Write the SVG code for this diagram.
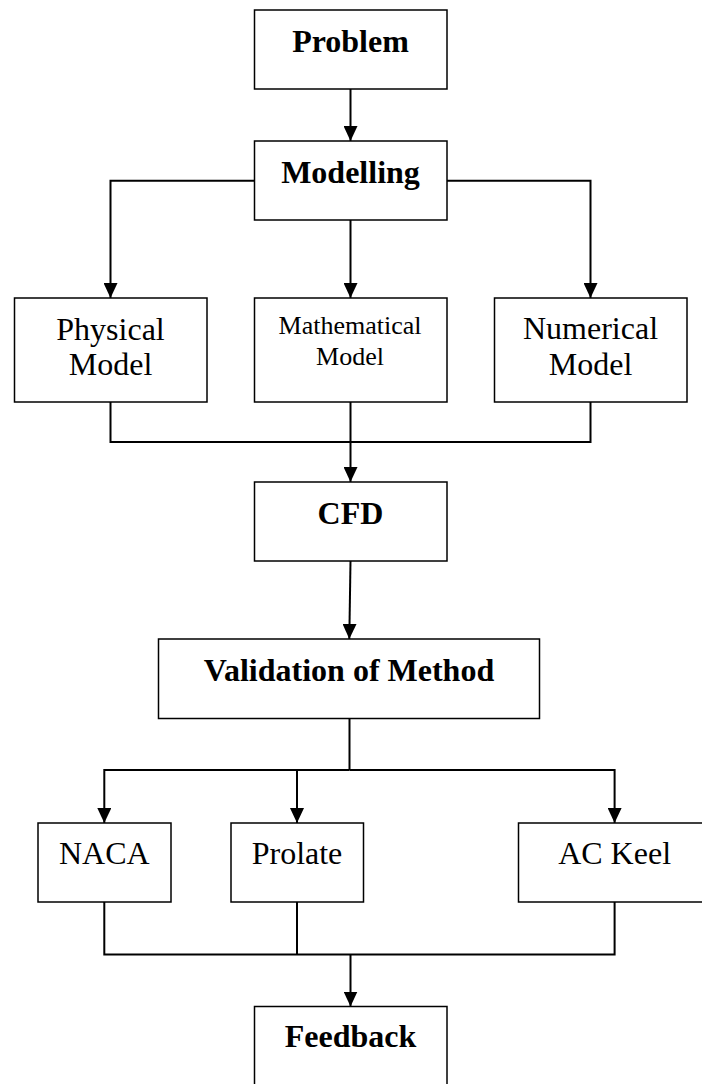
<svg xmlns="http://www.w3.org/2000/svg" width="702" height="1084" viewBox="0 0 702 1084">
<style>
.box{fill:#fff;stroke:#000;stroke-width:1.5}
.t{font-family:"Liberation Serif","Times New Roman",serif;font-size:32px;fill:#000;text-anchor:middle}
.b{font-weight:bold}
.s{font-size:26px}
.c{fill:none;stroke:#000;stroke-width:2}
</style>
<defs>
<marker id="ah" markerUnits="userSpaceOnUse" markerWidth="15" markerHeight="14" viewBox="0 0 15 14" refX="15" refY="7" orient="auto">
<path d="M0,0 L15,7 L0,14 z" fill="#000"/>
</marker>
</defs>
<rect width="702" height="1084" fill="#fff"/>
<g id="connectors">
<path class="c" d="M350.5,89 V141" marker-end="url(#ah)"/>
<path class="c" d="M254,180.7 H110.5 V298" marker-end="url(#ah)"/>
<path class="c" d="M447,180.7 H590.5 V298" marker-end="url(#ah)"/>
<path class="c" d="M350.5,220 V298" marker-end="url(#ah)"/>
<path class="c" d="M110.5,402 V442 H590.5 V402"/>
<path class="c" d="M350.5,402 V482" marker-end="url(#ah)"/>
<path class="c" d="M350.5,561 L349.3,639" marker-end="url(#ah)"/>
<path class="c" d="M349.5,719 V770"/>
<path class="c" d="M349.5,770 H104.3 V823" marker-end="url(#ah)"/>
<path class="c" d="M349.5,770 H614.6 V823" marker-end="url(#ah)"/>
<path class="c" d="M297,770 V823" marker-end="url(#ah)"/>
<path class="c" d="M104.3,902 V954.5 H614.6 V902"/>
<path class="c" d="M297,902 V954.5"/>
<path class="c" d="M350.5,954.5 V1006.5" marker-end="url(#ah)"/>
</g>
<g id="problem">
<rect class="box" x="254.5" y="10" width="192.5" height="79"/>
<text class="t b" x="350.5" y="52">Problem</text>
</g>
<g id="modelling">
<rect class="box" x="254.5" y="141" width="192.5" height="79"/>
<text class="t b" x="350.5" y="183">Modelling</text>
</g>
<g id="physical">
<rect class="box" x="14.5" y="298" width="192.5" height="104"/>
<text class="t" x="110.5" y="339.5">Physical</text>
<text class="t" x="110.5" y="375">Model</text>
</g>
<g id="mathematical">
<rect class="box" x="254.5" y="298" width="192.5" height="104"/>
<text class="t s" x="350" y="334">Mathematical</text>
<text class="t s" x="350" y="365">Model</text>
</g>
<g id="numerical">
<rect class="box" x="494.5" y="298" width="192.5" height="104"/>
<text class="t" x="590.5" y="339">Numerical</text>
<text class="t" x="590.5" y="375">Model</text>
</g>
<g id="cfd">
<rect class="box" x="254.5" y="482" width="192.5" height="79"/>
<text class="t b" x="350.5" y="524">CFD</text>
</g>
<g id="validation">
<rect class="box" x="158.5" y="639" width="381" height="79.5"/>
<text class="t b" x="349" y="681">Validation of Method</text>
</g>
<g id="naca">
<rect class="box" x="38" y="823" width="133" height="79"/>
<text class="t" x="104.3" y="864">NACA</text>
</g>
<g id="prolate">
<rect class="box" x="231" y="823" width="132.5" height="79"/>
<text class="t" x="297" y="864">Prolate</text>
</g>
<g id="ackeel">
<rect class="box" x="518.5" y="823" width="192.5" height="79"/>
<text class="t" x="614.6" y="863.5">AC Keel</text>
</g>
<g id="feedback">
<rect class="box" x="254.5" y="1006.5" width="192.5" height="90"/>
<text class="t b" x="350.5" y="1046.7">Feedback</text>
</g>
</svg>
